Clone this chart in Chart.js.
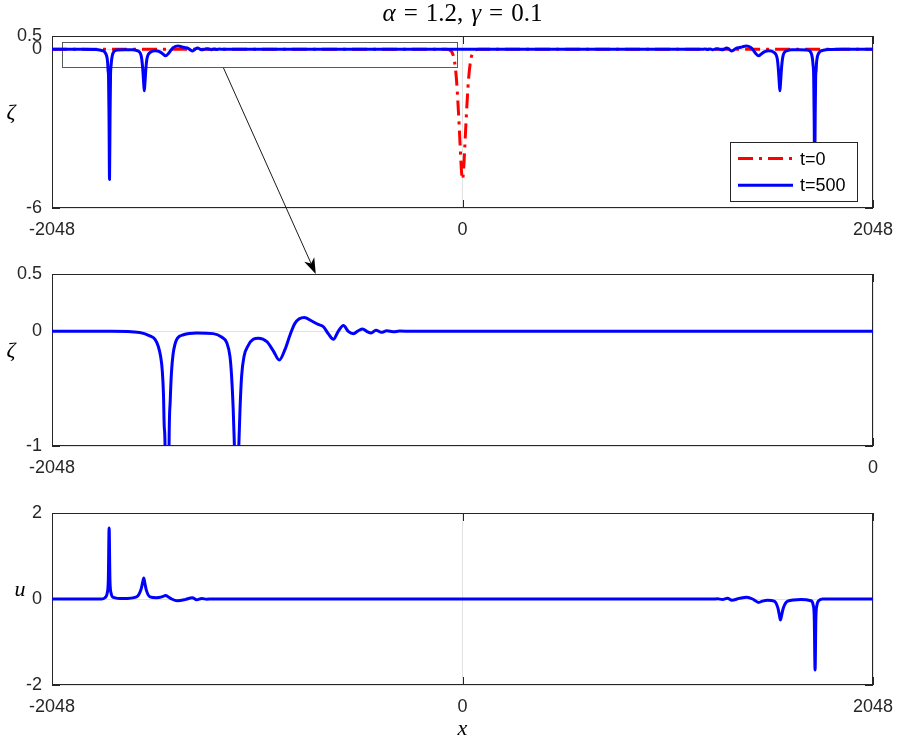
<!DOCTYPE html>
<html><head><meta charset="utf-8">
<script src="https://cdn.jsdelivr.net/npm/chart.js@4.4.0/dist/chart.umd.min.js"></script>
<style>
html,body{margin:0;padding:0;background:#fff;}
#wrap{position:relative;width:898px;height:740px;overflow:hidden;background:#fff;}
canvas{position:absolute;left:0;}
</style></head><body>
<div id="wrap">
<canvas id="c1" width="898" height="250" style="top:0px"></canvas>
<canvas id="c2" width="898" height="250" style="top:250px"></canvas>
<canvas id="c3" width="898" height="240" style="top:500px"></canvas>
<canvas id="ov" width="898" height="740" style="top:0px;pointer-events:none"></canvas>
</div>
<script>
// ---------------- data ----------------
const xTicksFull = [-2048, 0, 2048];
const xTicksZoom = [-2048, 0];
const yTicksZetaTop = [-6, 0, 0.5];
const yTicksZetaZoom = [-1, 0, 0.5];
const yTicksU = [-2, 0, 2];
const seriesLabels = ['t=0', 't=500'];

// zeta at t=0
const xZeta0 = [-2048, -80, -60, -50, -40, -30, -20, -12, -6, 0, 6, 12, 20, 30, 40, 50, 60, 80, 2048];
const zeta0  = [0, 0, -0.05, -0.15, -0.45, -1.15, -2.4, -3.6, -4.5, -4.92, -4.5, -3.6, -2.4, -1.15, -0.45, -0.15, -0.05, 0, 0];

// zeta at t=500
const xZeta500 = [
  -2048, -1900, -1829, -1804, -1791, -1783, -1777, -1773, -1770, -1768, -1766, -1763.5, -1761, -1758.5, -1756,
  -1753, -1750, -1746, -1741, -1735, -1720, -1687, -1646, -1625, -1612, -1604, -1600, -1596, -1593, -1590,
  -1587.5, -1585, -1582, -1579, -1575, -1569, -1558, -1546, -1533, -1512, -1496, -1481, -1467, -1454, -1442,
  -1419, -1400, -1384, -1371, -1359, -1346, -1334, -1321, -1309, -1296, -1284, -1273, -1263, -1252, -1240,
  -1226, -1213, -1197, -1181, -1150,
  1146, 1177, 1193, 1209, 1222, 1236, 1248, 1259, 1269, 1280, 1292, 1305, 1317, 1330, 1342, 1355, 1367, 1380,
  1396, 1415, 1438, 1450, 1463, 1477, 1492, 1508, 1529, 1542, 1554, 1565, 1571, 1575, 1578, 1581, 1583.5, 1586,
  1589, 1592, 1596, 1600, 1608, 1621, 1642, 1683, 1716, 1731, 1737, 1742, 1746, 1749, 1752, 1754.5, 1757,
  1759.5, 1762, 1764, 1766, 1769, 1773, 1779, 1787, 1800, 1825, 1896, 2048];
const zeta500 = [
  0, 0, -0.01, -0.04, -0.07, -0.13, -0.22, -0.34, -0.54, -0.83, -1.0, -2.6, -4.92, -2.6, -1.0,
  -0.6, -0.36, -0.2, -0.11, -0.06, -0.03, -0.015, -0.02, -0.05, -0.10, -0.22, -0.39, -0.68, -1.0, -1.35,
  -1.57, -1.35, -1.0, -0.68, -0.39, -0.22, -0.12, -0.07, -0.06, -0.09, -0.17, -0.25, -0.16, -0.03, 0.07,
  0.12, 0.09, 0.06, 0.04, -0.02, -0.07, 0.0, 0.05, 0.0, -0.02, 0.005, 0.02, 0, -0.015, 0.01,
  -0.008, 0.005, -0.003, 0.002, 0,
  0, 0.002, -0.003, 0.005, -0.008, 0.01, -0.015, 0, 0.02, 0.005, -0.02, 0.0, 0.05, 0.0, -0.07, -0.02, 0.04, 0.06,
  0.09, 0.12, 0.07, -0.03, -0.16, -0.25, -0.17, -0.09, -0.06, -0.07, -0.12, -0.22, -0.39, -0.68, -1.0, -1.35, -1.57, -1.35,
  -1.0, -0.68, -0.39, -0.22, -0.10, -0.05, -0.02, -0.015, -0.03, -0.06, -0.11, -0.2, -0.36, -0.6, -1.0, -2.6, -4.92,
  -2.6, -1.0, -0.83, -0.54, -0.34, -0.22, -0.13, -0.07, -0.04, -0.01, 0, 0];

// u at t=500
const xU500 = [
  -2048, -1801, -1784, -1772, -1767, -1763, -1759, -1754, -1742, -1692, -1626, -1604, -1596, -1590, -1584,
  -1577, -1559, -1526, -1500, -1481, -1465, -1451, -1423, -1385, -1348, -1326, -1301, -1276, -1250,
  1250, 1272, 1297, 1322, 1344, 1381, 1419, 1447, 1461, 1477, 1496, 1522, 1555, 1573, 1580, 1586, 1592,
  1600, 1622, 1688, 1738, 1750, 1755, 1759, 1763, 1768, 1780, 1797, 2048];
const u500 = [
  0, 0, 0.03, 0.15, 0.45, 1.65, 0.45, 0.15, 0.04, 0.01, 0.05, 0.22, 0.38, 0.49, 0.35,
  0.2, 0.05, 0.03, 0.05, 0.08, 0.04, 0, -0.04, -0.015, 0.03, -0.02, 0.01, -0.005, 0,
  0, 0.005, -0.01, 0.02, -0.03, 0.015, 0.04, 0, -0.04, -0.08, -0.05, -0.03, -0.05, -0.2, -0.35, -0.49, -0.38,
  -0.22, -0.05, -0.01, -0.04, -0.15, -0.45, -1.65, -0.45, -0.15, -0.03, 0, 0];

// zoom annotation (data units of the top panel / middle panel)
const zoomBoxX = [-2000, -29];
const zoomBoxY = [-0.66, 0.283];
const arrowTailX = [-1193];
const arrowHeadX = [-1390];

// ---------------- helpers ----------------
const FONT = '"Liberation Sans", Arial, Helvetica, sans-serif';
const SERIF = '"Liberation Serif", "DejaVu Serif", serif';
const TXT = '#262626';
const BLUE = '#0000ff';
const RED = '#ff0000';
const RED_DASH = [15, 6, 3, 6];

function pts(xs, ys) { return xs.map((x, i) => ({ x: x, y: ys[i] })); }

const framePlugin = {
  id: 'frame',
  beforeDatasetsDraw(chart, args, o) {
    const ctx = chart.ctx, a = chart.chartArea, x = chart.scales.x, y = chart.scales.y;
    ctx.save();
    ctx.strokeStyle = TXT; ctx.lineWidth = 1;
    ctx.beginPath();
    x.ticks.forEach(t => {
      const px = Math.round(x.getPixelForValue(t.value)) + 0.5;
      ctx.moveTo(px, a.bottom); ctx.lineTo(px, a.bottom - 8);
      ctx.moveTo(px, a.top); ctx.lineTo(px, a.top + 8);
    });
    y.ticks.forEach(t => {
      const py = Math.round(y.getPixelForValue(t.value)) + 0.5;
      ctx.moveTo(a.left, py); ctx.lineTo(a.left + 8, py);
      ctx.moveTo(a.right, py); ctx.lineTo(a.right - 8, py);
    });
    ctx.stroke();
    ctx.strokeRect(a.left + 0.5, a.top + 0.5, a.right - a.left - 1, a.bottom - a.top - 1);
    if (o.zoomRect) {
      const x1 = x.getPixelForValue(zoomBoxX[0]), x2 = x.getPixelForValue(zoomBoxX[1]);
      const y1 = y.getPixelForValue(zoomBoxY[1]), y2 = y.getPixelForValue(zoomBoxY[0]);
      ctx.strokeStyle = '#5a5a5a';
      ctx.strokeRect(Math.round(x1) + 0.5, Math.round(y1) + 0.5, Math.round(x2 - x1), Math.round(y2 - y1));
    }
    ctx.restore();
  },
  afterDatasetsDraw(chart, args, o) {
    if (!o.legend) return;
    const ctx = chart.ctx, a = chart.chartArea;
    const w = 127, h = 59;
    const bx = a.right - 16 - w, by = a.bottom - 7 - h;
    ctx.save();
    ctx.fillStyle = '#fff';
    ctx.fillRect(bx, by, w, h);
    ctx.strokeStyle = TXT; ctx.lineWidth = 1;
    ctx.strokeRect(Math.round(bx) + 0.5, Math.round(by) + 0.5, w, h);
    const ds = chart.data.datasets;
    const rows = [ds[0], ds[1]];
    rows.forEach((d, i) => {
      const cy = by + 16.6 + i * 26.7;
      ctx.beginPath();
      ctx.strokeStyle = d.borderColor; ctx.lineWidth = 3;
      ctx.setLineDash(d.borderDash || []);
      ctx.moveTo(bx + 8, cy); ctx.lineTo(bx + 63, cy);
      ctx.stroke();
      ctx.setLineDash([]);
      ctx.fillStyle = '#000';
      ctx.font = '18px ' + FONT;
      ctx.textBaseline = 'middle'; ctx.textAlign = 'left';
      ctx.fillText(d.label, bx + 70, cy + 1);
    });
    ctx.restore();
  },
  afterDraw(chart, args, o) {
    const ctx = chart.ctx, a = chart.chartArea;
    ctx.save();
    ctx.fillStyle = '#000';
    ctx.textBaseline = 'middle';
    if (o.yLabel) {
      ctx.font = 'italic 22px ' + SERIF;
      ctx.textAlign = 'center';
      ctx.fillText(o.yLabel, o.yLabelX, (a.top + a.bottom) / 2 - 9);
    }
    if (o.xLabel) {
      ctx.font = 'italic 22px ' + SERIF;
      ctx.textAlign = 'center';
      ctx.fillText(o.xLabel, (a.left + a.right) / 2, a.bottom + 44);
    }
    if (o.title) {
      const segs = o.title;
      const gap = 8;
      let total = 0;
      const ws = segs.map(s => {
        ctx.font = (s[1] ? 'italic ' : '') + '25px ' + SERIF;
        const m = ctx.measureText(s[0]).width; total += m; return m;
      });
      total += gap * (segs.length - 1);
      let cx = (a.left + a.right) / 2 - total / 2;
      ctx.textAlign = 'left';
      segs.forEach((s, i) => {
        ctx.font = (s[1] ? 'italic ' : '') + '25px ' + SERIF;
        ctx.fillText(s[0], cx, 14);
        cx += ws[i] + gap;
      });
    }
    ctx.restore();
  }
};

function makeChart(id, datasets, xr, xt, yr, yt, padTop, xAxisH, frameOpts) {
  return new Chart(document.getElementById(id), {
    type: 'line',
    data: { datasets: datasets },
    options: {
      responsive: false, animation: false, devicePixelRatio: 1, events: [],
      layout: { padding: { top: padTop, right: 25, bottom: 0, left: 0 } },
      plugins: { legend: { display: false }, tooltip: { enabled: false }, title: { display: false }, frame: frameOpts },
      scales: {
        x: {
          type: 'linear', min: xr[0], max: xr[1],
          afterBuildTicks: s => { s.ticks = xt.map(v => ({ value: v })); },
          afterFit: s => { s.height = xAxisH; s.paddingLeft = 0; s.paddingRight = 0; },
          grid: { color: '#e2e2e2', lineWidth: 1, drawTicks: false },
          border: { display: false },
          ticks: { autoSkip: false, maxRotation: 0, minRotation: 0, padding: 11, color: TXT,
                   font: { family: FONT, size: 18 }, callback: v => String(v) }
        },
        y: {
          type: 'linear', min: yr[0], max: yr[1],
          afterBuildTicks: s => { s.ticks = yt.map(v => ({ value: v })); },
          afterFit: s => { s.width = 52; s.paddingTop = 0; s.paddingBottom = 0; },
          grid: { color: '#e2e2e2', lineWidth: 1, drawTicks: false },
          border: { display: false },
          ticks: { autoSkip: false, padding: 10, color: TXT,
                   font: { family: FONT, size: 18 }, callback: v => String(v) }
        }
      }
    },
    plugins: [framePlugin]
  });
}

function lineDs(label, xs, ys, color, dash, order) {
  return { label: label, data: pts(xs, ys), borderColor: color, borderWidth: 3, borderDash: dash,
           pointRadius: 0, fill: false, cubicInterpolationMode: 'monotone', borderJoinStyle: 'round', order: order };
}

const ch1 = makeChart('c1',
  [lineDs(seriesLabels[0], xZeta0, zeta0, RED, RED_DASH, 2),
   lineDs(seriesLabels[1], xZeta500, zeta500, BLUE, [], 1)],
  [-2048, 2048], xTicksFull, [-6, 0.5], yTicksZetaTop, 36, 42,
  { yLabel: 'ζ', yLabelX: 11, legend: true, zoomRect: true,
    title: [['α', true], ['=', false], ['1.2,', false], ['γ', true], ['=', false], ['0.1', false]] });

const ch2 = makeChart('c2',
  [lineDs(seriesLabels[1], xZeta500, zeta500, BLUE, [], 1)],
  [-2048, 0], xTicksZoom, [-1, 0.5], yTicksZetaZoom, 24, 54,
  { yLabel: 'ζ', yLabelX: 11 });

const ch3 = makeChart('c3',
  [lineDs(seriesLabels[1], xU500, u500, BLUE, [], 1)],
  [-2048, 2048], xTicksFull, [-2, 2], yTicksU, 13, 55,
  { yLabel: 'u', yLabelX: 20, xLabel: 'x' });

// ---------------- arrow overlay ----------------
(function () {
  const ctx = document.getElementById('ov').getContext('2d');
  const sx = ch1.scales.x.getPixelForValue(arrowTailX[0]);
  const sy = ch1.scales.y.getPixelForValue(zoomBoxY[0]) + 1;
  const ex = ch2.scales.x.getPixelForValue(arrowHeadX[0]);
  const ey = ch2.chartArea.top + 250;
  const dx = ex - sx, dy = ey - sy, len = Math.hypot(dx, dy);
  const ux = dx / len, uy = dy / len, nx = -uy, ny = ux;
  const L = 16, W = 5.5;
  const notchX = ex - ux * L * 0.72, notchY = ey - uy * L * 0.72;
  ctx.strokeStyle = '#1a1a1a'; ctx.lineWidth = 1;
  ctx.beginPath(); ctx.moveTo(sx, sy); ctx.lineTo(notchX, notchY); ctx.stroke();
  ctx.fillStyle = '#000';
  ctx.beginPath();
  ctx.moveTo(ex, ey);
  ctx.lineTo(ex - ux * L + nx * W, ey - uy * L + ny * W);
  ctx.lineTo(notchX, notchY);
  ctx.lineTo(ex - ux * L - nx * W, ey - uy * L - ny * W);
  ctx.closePath(); ctx.fill();
})();
</script>
</body></html>
